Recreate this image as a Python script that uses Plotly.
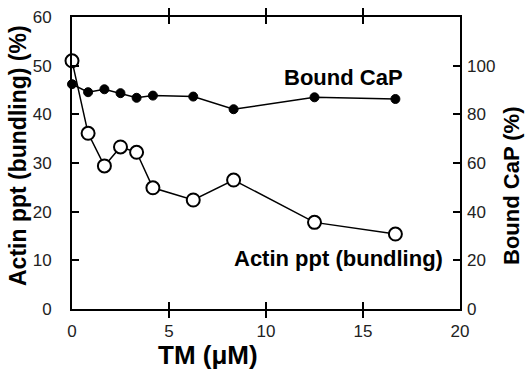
import plotly.graph_objects as go

# TM concentration (µM)
tm = [0, 0.83, 1.67, 2.5, 3.33, 4.17, 6.25, 8.33, 12.5, 16.67]
# Bound CaP (%) - right axis
bound_cap = [92.4, 89.1, 90.3, 88.7, 86.8, 87.7, 87.3, 82.1, 87.0, 86.3]
# Actin ppt (bundling) (%) - left axis
actin_ppt = [51.0, 36.1, 29.4, 33.3, 32.2, 24.9, 22.4, 26.5, 17.8, 15.4]

x_ticks = [0, 5, 10, 15, 20]
y_ticks = [0, 10, 20, 30, 40, 50, 60]
y2_ticks = [0, 20, 40, 60, 80, 100]

W, H = 525, 371
PL, PR, PT, PB = 72, 460, 17, 309          # plot area in window pixels
L, R, T, B = PL, W - PR, PT, H - PB

fig = go.Figure()
fig.add_trace(go.Scatter(
    x=tm, y=actin_ppt, mode="lines+markers", yaxis="y",
    line=dict(color="black", width=1.5),
    marker=dict(symbol="circle", size=13, color="white",
                line=dict(color="black", width=2)),
    showlegend=False, cliponaxis=False))
fig.add_trace(go.Scatter(
    x=tm, y=bound_cap, mode="lines+markers", yaxis="y2",
    line=dict(color="black", width=1.5),
    marker=dict(symbol="circle", size=9, color="black",
                line=dict(color="black", width=1)),
    showlegend=False, cliponaxis=False))

FAM = "Liberation Sans, Arial, sans-serif"
tickfont = dict(family=FAM, size=17, color="#222")

fig.update_layout(
    width=W, height=H,
    margin=dict(l=L, r=R, t=T, b=B, autoexpand=False),
    paper_bgcolor="white", plot_bgcolor="white",
    xaxis=dict(range=[0, 20], tickvals=x_ticks, ticks="inside", ticklen=7,
               tickwidth=1.5, tickcolor="black", showline=True, linecolor="black",
               linewidth=2, mirror="allticks", showgrid=False, zeroline=False,
               tickfont=tickfont, ticklabelstandoff=6, automargin=False,
               ticklabeloverflow="allow"),
    yaxis=dict(range=[0, 60], tickvals=y_ticks, ticks="inside", ticklen=7,
               tickwidth=1.5, tickcolor="black", showline=True, linecolor="black",
               linewidth=2, mirror=True, showgrid=False, zeroline=False,
               tickfont=tickfont, ticklabelstandoff=15, automargin=False,
               ticklabeloverflow="allow"),
    yaxis2=dict(range=[0, 120], tickvals=y2_ticks, ticks="inside", ticklen=7,
                tickwidth=1.5, tickcolor="black", overlaying="y", side="right",
                showline=False, showgrid=False, zeroline=False,
                tickfont=tickfont, ticklabelstandoff=6, automargin=False,
                ticklabeloverflow="allow"),
)

def px_x(p):
    return (p - PL) / (PR - PL)

def px_y(p):
    return (PB - p) / (PB - PT)

annos = [
    dict(text="<b>Actin ppt (bundling) (%)</b>", x=px_x(18), y=px_y(156), textangle=-90,
         font=dict(family=FAM, size=23, color="black")),
    dict(text="<b>Bound CaP (%)</b>", x=px_x(511), y=px_y(186), textangle=-90,
         font=dict(family=FAM, size=22, color="black")),
    dict(text="<b>TM (μM)</b>", x=px_x(208), y=px_y(355),
         font=dict(family=FAM, size=26, color="black")),
    dict(text="<b>Bound CaP</b>", x=px_x(343), y=px_y(78),
         font=dict(family=FAM, size=22, color="black")),
    dict(text="<b>Actin ppt (bundling)</b>", x=px_x(338), y=px_y(258),
         font=dict(family=FAM, size=22, color="black")),
]
for a in annos:
    fig.add_annotation(xref="paper", yref="paper", showarrow=False,
                       xanchor="center", yanchor="middle", **a)

fig.write_html(
    "out.html",
    config={"displayModeBar": False},
    post_script="document.body.style.margin='0';document.documentElement.style.overflow='hidden';",
)
